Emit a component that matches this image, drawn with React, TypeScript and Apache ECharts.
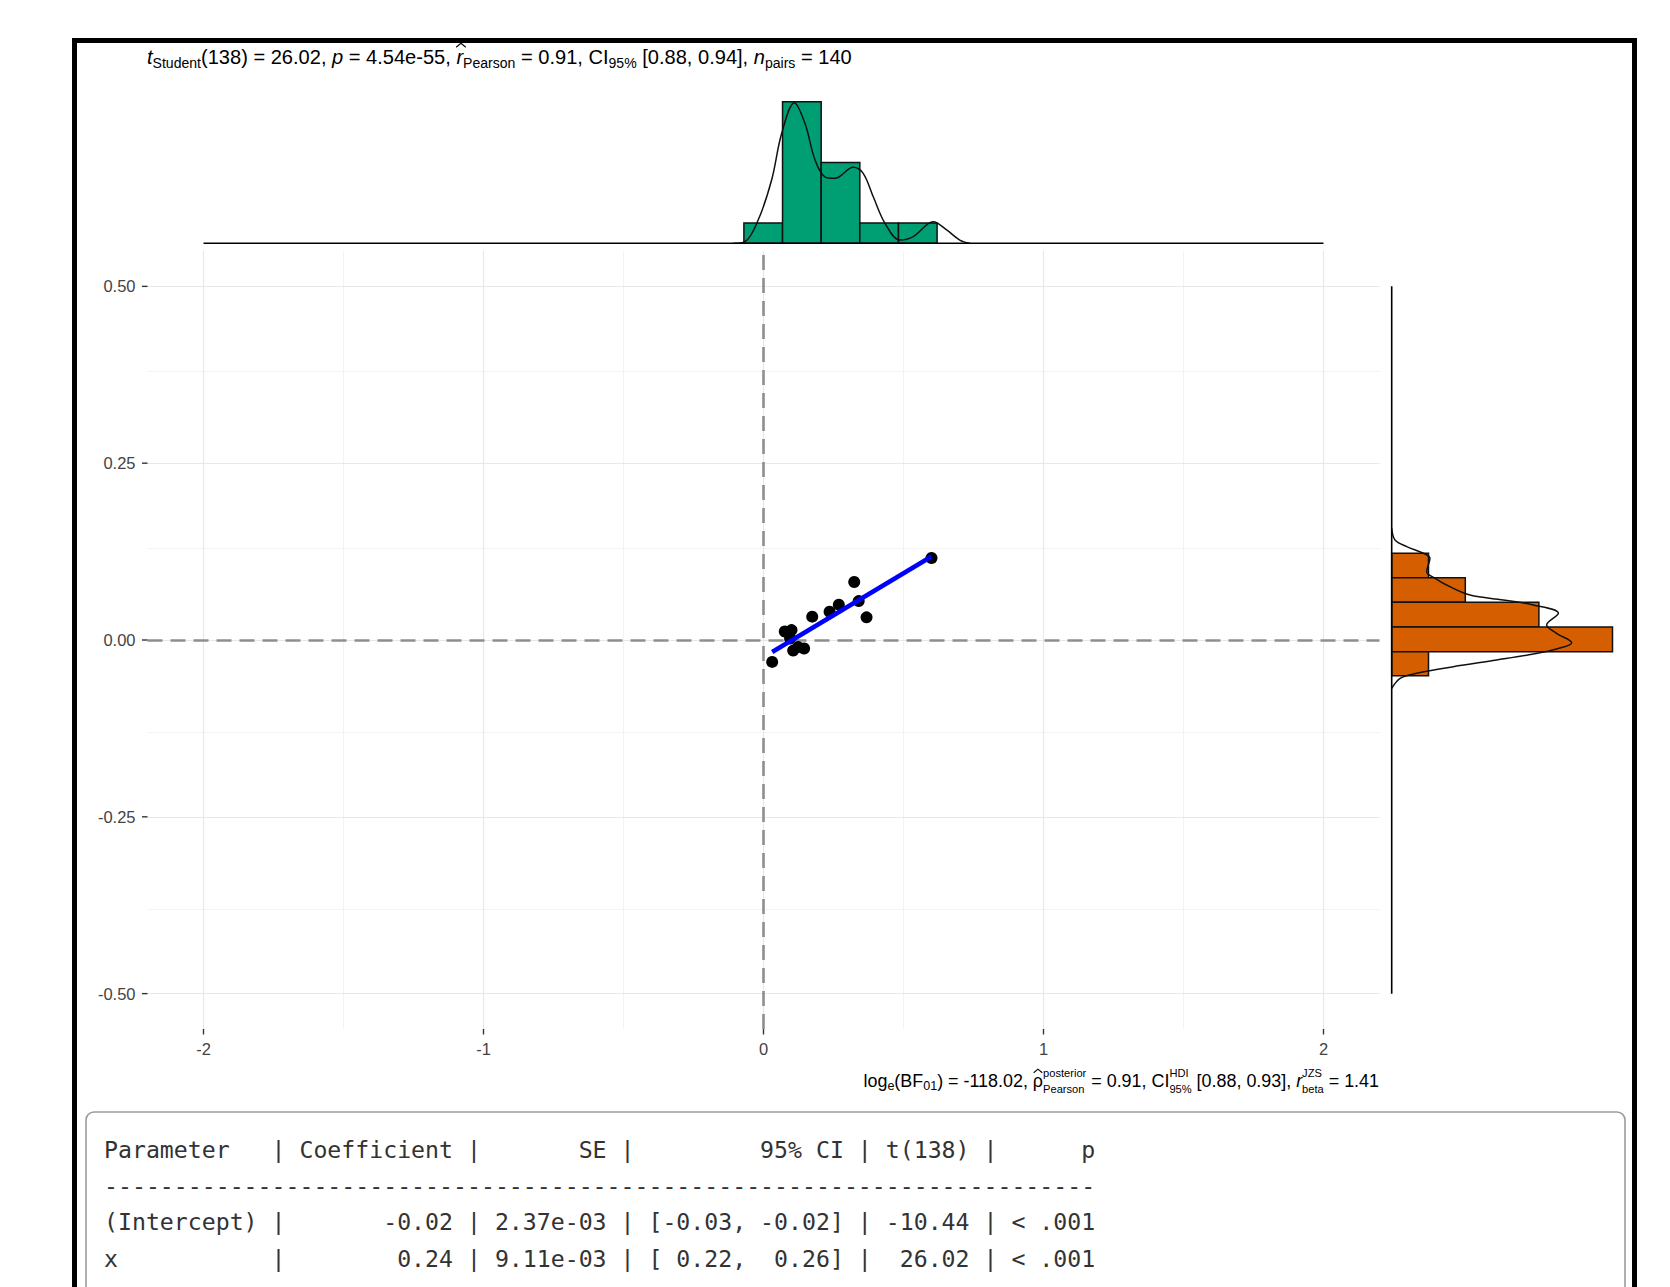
import React, { useEffect, useRef } from 'react';
import * as echarts from 'echarts';

// ---------- data ----------
const xTicks = [-2, -1, 0, 1, 2];
const yTicks = [-0.5, -0.25, 0, 0.25, 0.5];
const xMinor = [-1.5, -0.5, 0.5, 1.5];
const yMinor = [-0.375, -0.125, 0.125, 0.375];

const pointsX = [0.6, 0.324, 0.34, 0.368, 0.269, 0.236, 0.174, 0.076, 0.1, 0.106, 0.124, 0.145, 0.031, 0.095];
const pointsY = [0.116, 0.082, 0.055, 0.032, 0.05, 0.04, 0.033, 0.012, 0.014, -0.015, -0.01, -0.012, -0.031, 0.002];

const fitLine = [
  [0.031, -0.017],
  [0.6, 0.118],
];

const topBinEdges = [-0.07, 0.068, 0.206, 0.344, 0.482, 0.62];
const topCounts = [10, 70, 40, 10, 10];
const topDensity = [
  [-0.108, 0], [-0.066, 0.8], [-0.019, 11.5], [0.029, 31.3], [0.065, 54.4], [0.11, 69.5],
  [0.148, 59.3], [0.184, 41.2], [0.219, 32.9], [0.255, 32.1], [0.32, 37.6], [0.356, 34.6],
  [0.392, 23.0], [0.434, 9.9], [0.487, 1.6], [0.535, 3.3], [0.606, 10.7], [0.654, 6.6],
  [0.701, 1.6], [0.737, 0],
];

const rightBinEdges = [0.1226, 0.0881, 0.0533, 0.0184, -0.0165, -0.0505];
const rightCounts = [10, 20, 40, 60, 10];
const rightDensity = [
  [0, 0.158], [0.9, 0.1414], [4.1, 0.132], [8.6, 0.1226], [10.4, 0.1156], [9.5, 0.0966],
  [11.8, 0.0873], [15.8, 0.0754], [21.3, 0.0636], [30.3, 0.0566], [38.5, 0.0495], [45.3, 0.0378],
  [42.1, 0.0212], [44.8, 0.0095], [48.9, -0.0038], [44.8, -0.0127], [38.5, -0.0198], [28.5, -0.0283],
  [16.7, -0.0378], [6.8, -0.0471], [2.3, -0.0542], [0, -0.0683],
];

const titleSegs: any[] = [
  { t: 't', it: true }, { t: 'Student', k: 'sub' }, { t: '(138) = 26.02, ' }, { t: 'p', it: true },
  { t: ' = 4.54e-55, ' }, { t: 'r', it: true, hat: true }, { t: 'Pearson', k: 'sub' }, { t: ' = 0.91, CI' },
  { t: '95%', k: 'sub' }, { t: ' [0.88, 0.94], ' }, { t: 'n', it: true }, { t: 'pairs', k: 'sub' }, { t: ' = 140' },
];

const subtitleSegs: any[] = [
  { t: 'log' }, { t: 'e', k: 'sub' }, { t: '(BF' }, { t: '01', k: 'sub' }, { t: ') = -118.02, ' },
  { t: 'ρ', hat: true }, { k: 'stack', up: 'posterior', down: 'Pearson' }, { t: ' = 0.91, CI' },
  { k: 'stack', up: 'HDI', down: '95%' }, { t: ' [0.88, 0.93], ' }, { t: 'r', it: true },
  { k: 'stack', up: 'JZS', down: 'beta' }, { t: ' = 1.41' },
];

const tableLines = [
  'Parameter   | Coefficient |       SE |         95% CI | t(138) |      p',
  '-----------------------------------------------------------------------',
  '(Intercept) |       -0.02 | 2.37e-03 | [-0.03, -0.02] | -10.44 | < .001',
  'x           |        0.24 | 9.11e-03 | [ 0.22,  0.26] |  26.02 | < .001',
];

// ---------- helpers ----------
const SANS = 'Liberation Sans';
const MONO = 'DejaVu Sans Mono';
let _ctx: CanvasRenderingContext2D | null = null;
function measure(txt: string, size: number, italic: boolean, family = SANS) {
  if (!_ctx) _ctx = document.createElement('canvas').getContext('2d');
  _ctx!.font = `${italic ? 'italic ' : ''}${size}px "${family}"`;
  return _ctx!.measureText(txt).width;
}

function buildRich(segs: any[], F: number, subRatio: number, stackRatio: number) {
  const items: any[] = [];
  let x = 0;
  for (const s of segs) {
    if (s.k === 'stack') {
      const sf = F * stackRatio;
      const wu = measure(s.up, sf, false);
      const wd = measure(s.down, sf, false);
      items.push({ text: s.up, x, dy: -0.45 * F, size: sf });
      items.push({ text: s.down, x, dy: 0.42 * F, size: sf });
      x += Math.max(wu, wd);
    } else {
      const sub = s.k === 'sub';
      const size = sub ? F * subRatio : F;
      const dy = sub ? 0.3 * F : 0;
      const w = measure(s.t, size, !!s.it);
      items.push({ text: s.t, x, dy, size, it: !!s.it });
      if (s.hat) items.push({ hat: true, x: x + w / 2 + (s.it ? F * 0.06 : 0), F });
      x += w;
    }
  }
  return { items, width: x };
}

function richElements(segs: any[], x0: number, yMid: number, targetW: number, align: 'left' | 'right', subRatio: number, stackRatio: number) {
  const base = buildRich(segs, 100, subRatio, stackRatio);
  const F = (100 * targetW) / base.width;
  const res = buildRich(segs, F, subRatio, stackRatio);
  const off = align === 'right' ? x0 - res.width : x0;
  return res.items.map((it: any) => {
    if (it.hat) {
      const cx = off + it.x;
      const hw = it.F * 0.24;
      const top = yMid - it.F * 0.66;
      const bot = yMid - it.F * 0.46;
      return {
        type: 'polyline',
        z: 5,
        silent: true,
        shape: { points: [[cx - hw, bot], [cx, top], [cx + hw, bot]] },
        style: { stroke: '#000', lineWidth: 1.1, fill: 'none' },
      };
    }
    return {
      type: 'text',
      x: off + it.x,
      y: yMid + it.dy,
      z: 5,
      silent: true,
      style: {
        text: it.text,
        fontFamily: SANS,
        fontSize: it.size,
        fontStyle: it.it ? 'italic' : 'normal',
        fill: '#000',
        align: 'left',
        verticalAlign: 'middle',
      },
    };
  });
}

function tableElements(x0: number, y0: number, step: number, size: number) {
  const cw = measure('0', size, false, MONO);
  const els: any[] = [];
  tableLines.forEach((line, li) => {
    const re = /\S+/g;
    let m: RegExpExecArray | null;
    while ((m = re.exec(line))) {
      els.push({
        type: 'text',
        x: x0 + m.index * cw,
        y: y0 + li * step,
        z: 5,
        silent: true,
        style: { text: m[0], fontFamily: MONO, fontSize: size, fill: '#333', verticalAlign: 'middle', align: 'left' },
      });
    }
  });
  return els;
}

// ---------- component ----------
export default function App() {
  const ref = useRef<HTMLDivElement>(null);
  useEffect(() => {
    if (!ref.current) return;
    const chart = echarts.init(ref.current, undefined, { renderer: 'svg' });

    const GL = 147.5, GW = 1232, GT = 251, GH = 778;
    const X_MIN = -2.2, X_MAX = 2.2, Y_MIN = -0.55, Y_MAX = 0.55;
    const topGrid = { left: GL, width: GW, top: 91.6, height: 151.7 };
    const rightGrid = { left: 1391.7, width: 239.2, top: GT, height: GH };
    const TICK_LEN = 5.5;

    const tickLabel = { color: '#444', fontSize: 16.5, fontFamily: SANS };
    const hiddenLine = { show: false };

    const gridMark = (color: string, width: number, values: any[], z: number, type: any = 'solid') => ({
      silent: true, symbol: ['none', 'none'], label: { show: false }, animation: false, z,
      lineStyle: { color, width, type },
      emphasis: { disabled: true },
      data: values,
    });

    const option: any = {
      animation: false,
      backgroundColor: '#fff',
      textStyle: { fontFamily: SANS },
      grid: [
        { left: GL, top: GT, width: GW, height: GH },
        topGrid,
        rightGrid,
      ],
      xAxis: [
        {
          type: 'value', gridIndex: 0, min: X_MIN, max: X_MAX,
          axisLine: hiddenLine,
          splitLine: { show: false },
          axisTick: { show: false },
          axisLabel: { ...tickLabel, customValues: xTicks, margin: 11, formatter: (v: number) => String(v) },
        },
        { type: 'value', gridIndex: 1, min: X_MIN, max: X_MAX, show: false },
        { type: 'value', gridIndex: 2, min: 0, max: 65, show: false },
      ],
      yAxis: [
        {
          type: 'value', gridIndex: 0, min: Y_MIN, max: Y_MAX,
          axisLine: hiddenLine,
          splitLine: { show: false },
          axisTick: { show: false },
          axisLabel: { ...tickLabel, customValues: yTicks, margin: 12, formatter: (v: number) => v.toFixed(2) },
        },
        { type: 'value', gridIndex: 1, min: 0, max: 75, show: false },
        { type: 'value', gridIndex: 2, min: Y_MIN, max: Y_MAX, show: false },
      ],
      series: [
        // minor grid
        {
          type: 'line', xAxisIndex: 0, yAxisIndex: 0, data: [], silent: true, z: 0,
          markLine: gridMark('#F3F3F3', 1, [...xMinor.map((v) => ({ xAxis: v })), ...yMinor.map((v) => ({ yAxis: v }))], 0),
        },
        // major grid
        {
          type: 'line', xAxisIndex: 0, yAxisIndex: 0, data: [], silent: true, z: 0,
          markLine: gridMark('#E8E8E8', 1.2, [...xTicks.map((v) => ({ xAxis: v })), ...yTicks.map((v) => ({ yAxis: v }))], 0),
        },
        // dashed zero lines
        {
          type: 'line', xAxisIndex: 0, yAxisIndex: 0, data: [], silent: true, z: 1,
          markLine: gridMark('#8E8E8E', 2.6, [{ xAxis: 0 }, { yAxis: 0 }], 1, [15, 8]),
        },
        // axis ticks (x)
        {
          type: 'custom', xAxisIndex: 0, yAxisIndex: 0, z: 2, silent: true, clip: false,
          data: xTicks.map((v) => [v, Y_MIN]),
          renderItem: (params: any, api: any) => {
            const p = api.coord([api.value(0), api.value(1)]);
            return { type: 'line', shape: { x1: p[0], y1: p[1], x2: p[0], y2: p[1] + TICK_LEN }, style: { stroke: '#333', lineWidth: 1.4 } };
          },
        },
        // axis ticks (y)
        {
          type: 'custom', xAxisIndex: 0, yAxisIndex: 0, z: 2, silent: true, clip: false,
          data: yTicks.map((v) => [X_MIN, v]),
          renderItem: (params: any, api: any) => {
            const p = api.coord([api.value(0), api.value(1)]);
            return { type: 'line', shape: { x1: p[0] - TICK_LEN, y1: p[1], x2: p[0], y2: p[1] }, style: { stroke: '#333', lineWidth: 1.4 } };
          },
        },
        // points
        {
          type: 'scatter', xAxisIndex: 0, yAxisIndex: 0, z: 3,
          symbolSize: 12,
          itemStyle: { color: '#000', opacity: 1 },
          data: pointsX.map((x, i) => [x, pointsY[i]]),
        },
        // regression line
        {
          type: 'line', xAxisIndex: 0, yAxisIndex: 0, z: 4, symbol: 'none',
          lineStyle: { color: '#0000FF', width: 4.5 },
          data: fitLine,
        },
        // top histogram
        {
          type: 'custom', xAxisIndex: 1, yAxisIndex: 1, z: 2,
          data: topCounts.map((c, i) => [topBinEdges[i], topBinEdges[i + 1], c]),
          encode: { x: [0, 1], y: 2 },
          renderItem: (params: any, api: any) => {
            const p0 = api.coord([api.value(0), api.value(2)]);
            const p1 = api.coord([api.value(1), 0]);
            return {
              type: 'rect',
              shape: { x: p0[0], y: p0[1], width: p1[0] - p0[0], height: p1[1] - p0[1] },
              style: { fill: '#009E73', stroke: '#111', lineWidth: 1.5 },
            };
          },
        },
        {
          type: 'line', xAxisIndex: 1, yAxisIndex: 1, z: 3, symbol: 'none', smooth: 0.35,
          lineStyle: { color: '#111', width: 1.5 },
          data: topDensity,
        },
        {
          type: 'line', xAxisIndex: 1, yAxisIndex: 1, z: 4, symbol: 'none',
          lineStyle: { color: '#000', width: 1.6 },
          data: [[xTicks[0], 0], [xTicks[xTicks.length - 1], 0]],
        },
        // right histogram
        {
          type: 'custom', xAxisIndex: 2, yAxisIndex: 2, z: 2,
          data: rightCounts.map((c, i) => [c, rightBinEdges[i], rightBinEdges[i + 1]]),
          encode: { x: 0, y: [1, 2] },
          renderItem: (params: any, api: any) => {
            const p0 = api.coord([0, api.value(1)]);
            const p1 = api.coord([api.value(0), api.value(2)]);
            return {
              type: 'rect',
              shape: { x: p0[0], y: p0[1], width: p1[0] - p0[0], height: p1[1] - p0[1] },
              style: { fill: '#D55E00', stroke: '#111', lineWidth: 1.5 },
            };
          },
        },
        {
          type: 'line', xAxisIndex: 2, yAxisIndex: 2, z: 3, symbol: 'none', smooth: 0.35,
          lineStyle: { color: '#111', width: 1.5 },
          data: rightDensity,
        },
        {
          type: 'line', xAxisIndex: 2, yAxisIndex: 2, z: 4, symbol: 'none',
          lineStyle: { color: '#000', width: 1.6 },
          data: [[0, yTicks[0]], [0, yTicks[yTicks.length - 1]]],
        },
      ],
      graphic: [
        // table box
        {
          type: 'rect', silent: true, z: 1,
          shape: { x: 86, y: 1112, width: 1539, height: 400, r: 8 },
          style: { fill: 'none', stroke: '#9C9C9C', lineWidth: 1.6 },
        },
        // outer frame
        {
          type: 'rect', silent: true, z: 10,
          shape: { x: 74.5, y: 40.5, width: 1560, height: 1400 },
          style: { fill: 'none', stroke: '#000', lineWidth: 5 },
        },
        ...richElements(titleSegs, 147, 56.5, 705, 'left', 0.7, 0.62),
        ...richElements(subtitleSegs, 1379, 1081, 516, 'right', 0.7, 0.62),
        ...tableElements(104, 1149, 36.4, 23.2),
      ],
    };
    chart.setOption(option);
    return () => chart.dispose();
  }, []);
  return <div ref={ref} style={{ position: 'absolute', left: 0, top: 0, width: 1670, height: 1287 }} />;
}
